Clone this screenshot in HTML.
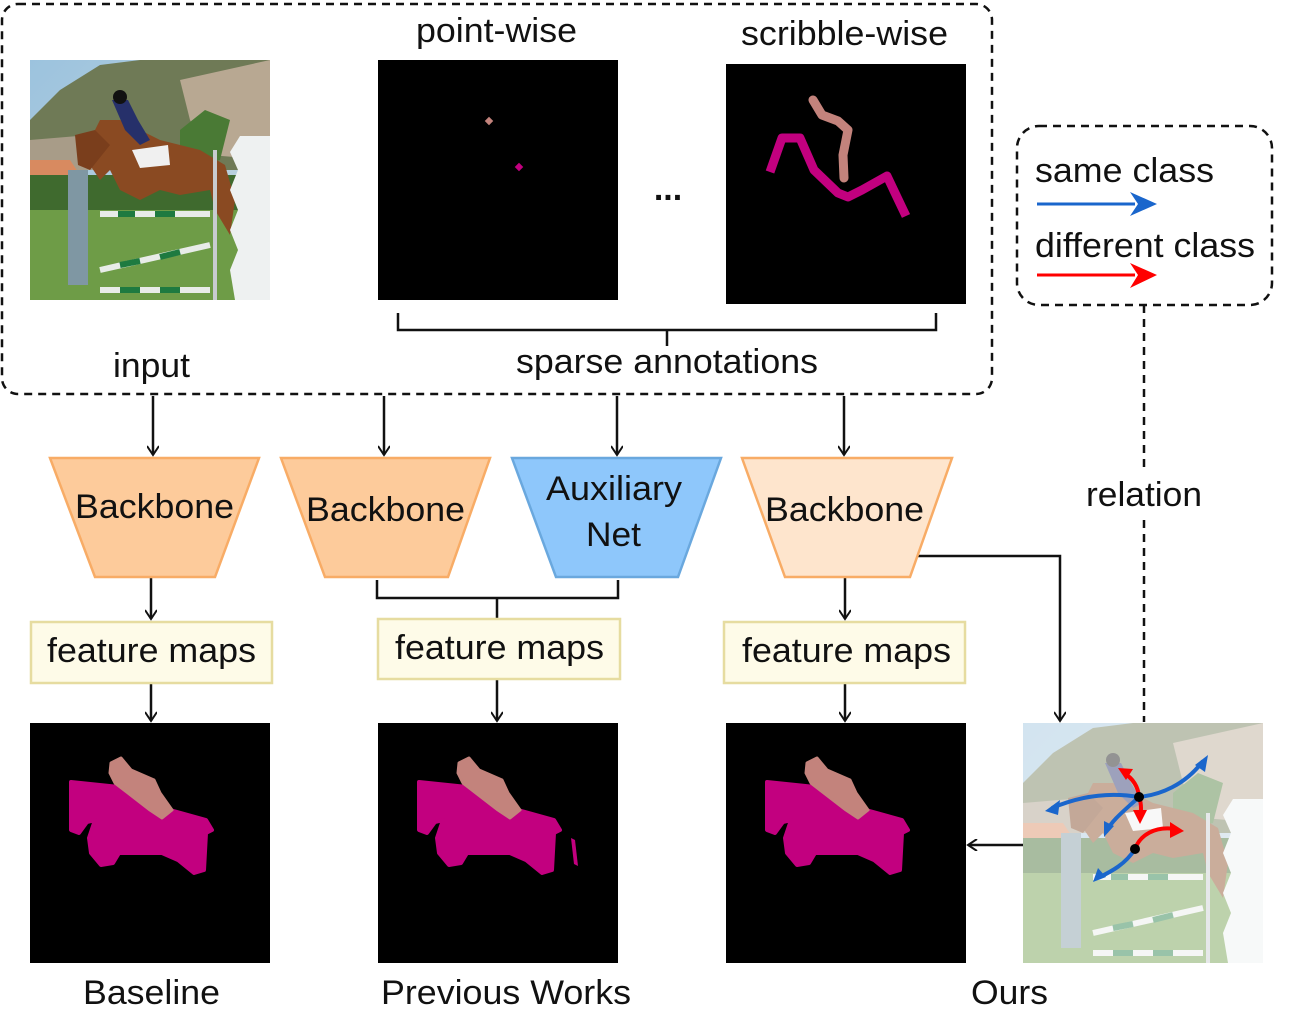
<!DOCTYPE html>
<html><head><meta charset="utf-8"><style>
html,body{margin:0;padding:0;background:#fff}
svg{display:block}
text{font-family:"Liberation Sans",Arial,sans-serif;fill:#111}
</style></head><body>
<svg width="1311" height="1026" viewBox="0 0 1311 1026" xmlns="http://www.w3.org/2000/svg">
<defs>
<marker id="ah" markerWidth="12" markerHeight="12" refX="10" refY="6" orient="auto" markerUnits="userSpaceOnUse">
<path d="M1,0 L10,6 L1,12" fill="none" stroke="#111" stroke-width="2"/></marker>
<linearGradient id="sky" x1="0" y1="0" x2="1" y2="1"><stop offset="0" stop-color="#9cc3de"/><stop offset="1" stop-color="#c7d6de"/></linearGradient>
<g id="photo">
<rect x="0" y="0" width="240" height="240" fill="url(#sky)"/>
<path d="M0,60 L30,30 L70,5 L110,0 L240,0 L240,110 L0,110 Z" fill="#6f7a56"/>
<path d="M150,20 L240,0 L240,100 L180,95 L160,60 Z" fill="#b8a892"/>
<path d="M0,80 L60,75 L70,110 L0,110 Z" fill="#a89c88"/>
<path d="M0,100 L40,100 L50,115 L0,120 Z" fill="#d88a60"/>
<path d="M150,70 L175,50 L200,60 L190,100 L150,110 Z" fill="#4a7a35"/>
<rect x="0" y="115" width="240" height="55" fill="#3f6a2e"/>
<rect x="0" y="150" width="240" height="90" fill="#6e9c47"/>
<rect x="38" y="110" width="20" height="115" fill="#7f97a3"/>
<path d="M60,80 L70,60 L90,60 L130,80 L170,90 L195,105 L205,140 L200,175 L185,150 L180,130 L150,135 L130,130 L110,140 L90,130 L80,110 L70,120 L60,105 Z" fill="#8a4a22"/>
<path d="M45,75 L65,70 L80,85 L60,110 L48,105 Z" fill="#7a3e1c"/>
<path d="M82,40 L98,40 L108,60 L120,80 L110,85 L95,70 Z" fill="#26306a"/>
<path d="M102,90 L138,85 L140,105 L110,108 Z" fill="#f0f0f0"/>
<circle cx="90" cy="37" r="7" fill="#111"/>
<g stroke-width="6">
<line x1="70" y1="154" x2="180" y2="154" stroke="#e8ece8"/>
<line x1="88" y1="154" x2="105" y2="154" stroke="#1e7a40"/><line x1="125" y1="154" x2="145" y2="154" stroke="#1e7a40"/>
<line x1="70" y1="210" x2="180" y2="185" stroke="#e8ece8"/>
<line x1="90" y1="205" x2="110" y2="201" stroke="#1e7a40"/><line x1="130" y1="197" x2="150" y2="192" stroke="#1e7a40"/>
<line x1="70" y1="230" x2="180" y2="230" stroke="#e8ece8"/>
<line x1="90" y1="230" x2="110" y2="230" stroke="#1e7a40"/><line x1="130" y1="230" x2="150" y2="230" stroke="#1e7a40"/>
</g>
<line x1="185" y1="90" x2="185" y2="240" stroke="#c8ccd0" stroke-width="4"/>
<path d="M210,76 L240,76 L240,240 L205,240 L200,210 L208,190 L200,170 L208,150 L200,130 L208,110 L200,92 Z" fill="#eef1f1"/>
</g>
<g id="mask">
<rect x="0" y="0" width="240" height="240" fill="#000"/>
<path d="M41,59 L89,64 L140,87 L176,97 L182,107 L176,110 L174,147 L164,150 L148,137 L132,130 L89,130 L83,140 L71,142 L61,130 L59,115 L65,97 L57,99 L49,110 L41,107 Z" fill="#c2007f" stroke="#c2007f" stroke-width="4" stroke-linejoin="round"/>
<path d="M81,40 L91,35 L101,47 L124,57 L130,70 L142,87 L132,95 L120,87 L85,60 L80,50 Z" fill="#c3837c" stroke="#c3837c" stroke-width="3" stroke-linejoin="round"/>
</g>
</defs>

<rect x="2" y="4" width="990" height="390" rx="16" fill="none" stroke="#111" stroke-width="2.5" stroke-dasharray="8,6"/>
<use href="#photo" x="30" y="60"/>
<text x="113" y="377" font-size="34" textLength="77" lengthAdjust="spacingAndGlyphs">input</text>

<text x="416" y="42" font-size="34" textLength="161" lengthAdjust="spacingAndGlyphs">point-wise</text>
<rect x="378" y="60" width="240" height="240" fill="#000"/>
<rect x="486" y="118" width="6" height="6" fill="#c3837c" transform="rotate(45 489 121)"/>
<rect x="516" y="164" width="6" height="6" fill="#c2007f" transform="rotate(45 519 167)"/>
<text x="668" y="200" font-size="34" text-anchor="middle" font-weight="bold">...</text>

<text x="741" y="45" font-size="34" textLength="207" lengthAdjust="spacingAndGlyphs">scribble-wise</text>
<rect x="726" y="64" width="240" height="240" fill="#000"/>
<path d="M770,172 L782,138 L800,138 L814,170 L838,193 L848,197 L862,190 L887,176 L906,216" fill="none" stroke="#c2007f" stroke-width="9" stroke-linejoin="round"/>
<path d="M813,100 L822,115 L838,121 L848,130 L843,155 L844,178" fill="none" stroke="#c3837c" stroke-width="9" stroke-linecap="round" stroke-linejoin="round"/>

<path d="M398,313 L398,330 L936,330 L936,313 M667,330 L667,346" fill="none" stroke="#111" stroke-width="2.5"/>
<text x="516" y="373" font-size="34" textLength="302" lengthAdjust="spacingAndGlyphs">sparse annotations</text>

<rect x="1017" y="126" width="255" height="179" rx="22" fill="none" stroke="#111" stroke-width="2.5" stroke-dasharray="8,6"/>
<text x="1035" y="182" font-size="34" textLength="179" lengthAdjust="spacingAndGlyphs">same class</text>
<line x1="1037" y1="204" x2="1135" y2="204" stroke="#1a66cc" stroke-width="3"/>
<path d="M1130,192 L1157,204 L1130,216 L1138,204 Z" fill="#1a66cc"/>
<text x="1035" y="257" font-size="34" textLength="220" lengthAdjust="spacingAndGlyphs">different class</text>
<line x1="1037" y1="275" x2="1135" y2="275" stroke="#f00" stroke-width="3"/>
<path d="M1130,263 L1157,275 L1130,288 L1138,275 Z" fill="#f00"/>
<line x1="1144" y1="305" x2="1144" y2="468" stroke="#111" stroke-width="2.5" stroke-dasharray="8,6"/>
<text x="1086" y="506" font-size="34" textLength="116" lengthAdjust="spacingAndGlyphs">relation</text>
<line x1="1144" y1="520" x2="1144" y2="722" stroke="#111" stroke-width="2.5" stroke-dasharray="8,6"/>

<g stroke="#111" stroke-width="2.5" fill="none" marker-end="url(#ah)">
<line x1="153" y1="396" x2="153" y2="455"/>
<line x1="384" y1="396" x2="384" y2="455"/>
<line x1="617" y1="396" x2="617" y2="455"/>
<line x1="844" y1="396" x2="844" y2="455"/>
<line x1="151" y1="578" x2="151" y2="619"/>
<line x1="845" y1="578" x2="845" y2="619"/>
<line x1="151" y1="684" x2="151" y2="721"/>
<line x1="497" y1="680" x2="497" y2="721"/>
<line x1="845" y1="684" x2="845" y2="721"/>
<polyline points="915,556 1060,556 1060,721"/>
<line x1="1040" y1="845" x2="968" y2="845"/>
</g>

<polygon points="50,458 259,458 215,577 95,577" fill="#fdcb9b" stroke="#f8ac66" stroke-width="2.5"/>
<text x="75" y="518" font-size="34" textLength="159" lengthAdjust="spacingAndGlyphs">Backbone</text>
<polygon points="281,458 490,458 448,577 325,577" fill="#fdcb9b" stroke="#f8ac66" stroke-width="2.5"/>
<text x="306" y="521" font-size="34" textLength="159" lengthAdjust="spacingAndGlyphs">Backbone</text>
<polygon points="512,458 721,458 678,577 556,577" fill="#8ec7fb" stroke="#6aa8de" stroke-width="2.5"/>
<text x="546" y="500" font-size="34" textLength="136" lengthAdjust="spacingAndGlyphs">Auxiliary</text>
<text x="586" y="546" font-size="34" textLength="55" lengthAdjust="spacingAndGlyphs">Net</text>
<polygon points="742,458 952,458 910,577 785,577" fill="#fee5cd" stroke="#f8ac66" stroke-width="2.5"/>
<text x="765" y="521" font-size="34" textLength="159" lengthAdjust="spacingAndGlyphs">Backbone</text>

<path d="M377,580 L377,598 L618,598 L618,580 M497,598 L497,618" fill="none" stroke="#111" stroke-width="2.5"/>

<rect x="31" y="622" width="241" height="61" fill="#fefbe8" stroke="#e6dca0" stroke-width="2.5"/>
<text x="47" y="662" font-size="34" textLength="209" lengthAdjust="spacingAndGlyphs">feature maps</text>
<rect x="378" y="619" width="242" height="60" fill="#fefbe8" stroke="#e6dca0" stroke-width="2.5"/>
<text x="395" y="659" font-size="34" textLength="209" lengthAdjust="spacingAndGlyphs">feature maps</text>
<rect x="724" y="622" width="241" height="61" fill="#fefbe8" stroke="#e6dca0" stroke-width="2.5"/>
<text x="742" y="662" font-size="34" textLength="209" lengthAdjust="spacingAndGlyphs">feature maps</text>

<use href="#mask" x="30" y="723"/>
<use href="#mask" x="378" y="723"/>
<path d="M571,838 L575,840 L578,866 L574,864 Z" fill="#c2007f"/>
<use href="#mask" x="726" y="723"/>

<use href="#photo" x="1023" y="723"/>
<rect x="1023" y="723" width="240" height="240" fill="#fff" opacity="0.55"/>
<g fill="none" stroke="#1a66cc" stroke-width="4">
<path d="M1139,797 C1110,792 1080,796 1052,808"/>
<path d="M1139,797 C1160,795 1185,785 1203,761"/>
<path d="M1139,797 C1125,810 1112,820 1106,832"/>
<path d="M1135,849 C1125,865 1110,872 1098,878"/>
</g>
<g fill="#1a66cc">
<path d="M1045,811 L1060,800 L1058,815 Z"/>
<path d="M1208,755 L1205,772 L1195,765 Z"/>
<path d="M1104,837 L1104,821 L1114,826 Z"/>
<path d="M1093,882 L1098,868 L1106,877 Z"/>
</g>
<g fill="none" stroke="#f00" stroke-width="4">
<path d="M1139,797 C1138,785 1132,778 1124,773"/>
<path d="M1139,797 C1142,805 1141,812 1140,818"/>
<path d="M1135,849 C1140,835 1155,826 1175,829"/>
</g>
<g fill="#f00">
<path d="M1118,768 L1133,769 L1126,780 Z"/>
<path d="M1140,824 L1133,810 L1147,810 Z"/>
<path d="M1184,831 L1170,822 L1170,838 Z"/>
</g>
<circle cx="1139" cy="797" r="5" fill="#000"/>
<circle cx="1135" cy="849" r="5" fill="#000"/>

<text x="83" y="1004" font-size="34" textLength="137" lengthAdjust="spacingAndGlyphs">Baseline</text>
<text x="381" y="1004" font-size="34" textLength="250" lengthAdjust="spacingAndGlyphs">Previous Works</text>
<text x="971" y="1004" font-size="34" textLength="77" lengthAdjust="spacingAndGlyphs">Ours</text>
</svg>
</body></html>
